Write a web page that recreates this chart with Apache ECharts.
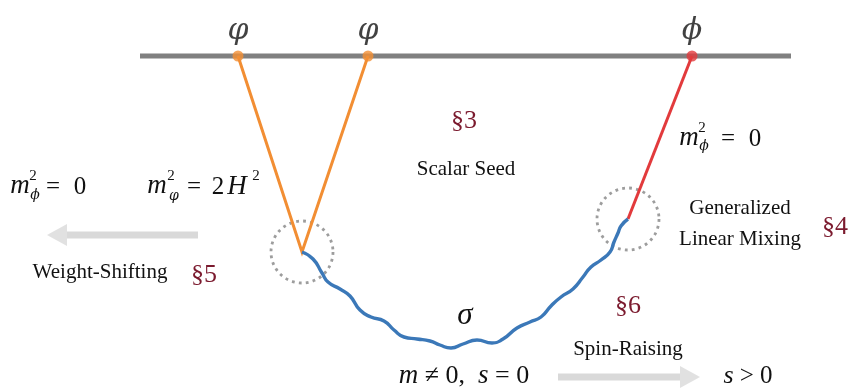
<!DOCTYPE html>
<html>
<head>
<meta charset="utf-8">
<script src="https://cdn.jsdelivr.net/npm/echarts@6/dist/echarts.min.js"></script>
<style>
  html, body { margin: 0; padding: 0; background: #ffffff; }
  #chart { width: 850px; height: 389px; }
</style>
</head>
<body>
<div id="chart"></div>
<script>
// Field points sitting on the boundary line
const fieldNames = ['φ', 'φ', 'ϕ'];
const fieldX = [238, 368, 692];
const boundaryY = 56;
const boundaryX = [140, 791];

// Vertices where the external lines meet the exchanged field
const vertexLeft = [302, 252];
const vertexRight = [628, 219];

// Exchanged σ line (wavy propagator)
const waveX = [302, 313, 322, 328, 340, 350, 360, 371, 384, 394, 404, 417, 430, 440, 451, 463, 477, 492, 503, 517, 530, 541, 551, 561, 573, 583, 591, 601, 610, 614, 618, 621, 628];
const waveY = [252, 259, 273, 282, 289, 296, 310, 317, 321, 330, 337, 339, 341, 345, 348, 344, 340, 343, 339, 328, 322, 317, 306, 297, 289, 277, 267, 260, 252, 242, 233, 226, 219];

// Arrows: [start x, end x, y]
const arrowLeft = [198, 47, 235];
const arrowRight = [558, 700, 377];

const COL = {
  boundary: '#808080',
  orange: '#F28E33',
  red: '#E23A3C',
  blue: '#3B78B8',
  section: '#7B1A2E',
  arrow: '#D9D9D9',
  dots: '#858585',
  ink: '#111111'
};

const SERIF = "'Liberation Serif', 'DejaVu Serif', serif";
const GREEK = "'DejaVu Serif', serif";

const chart = echarts.init(document.getElementById('chart'), null, { renderer: 'canvas' });

const waveData = waveX.map((x, i) => [x, waveY[i]]);

// text helper
function txt(text, x, y, opt) {
  opt = opt || {};
  return {
    type: 'text', x: x, y: y, z: 50,
    style: {
      text: text,
      font: (opt.italic ? 'italic ' : '') + (opt.size || 21) + 'px ' + (opt.family || SERIF),
      fill: opt.color || COL.ink,
      align: opt.align || 'center',
      verticalAlign: 'middle'
    }
  };
}

const graphics = [
  // section markers
  txt('§3', 464, 121, { size: 26, color: COL.section }),
  txt('§4', 835, 227, { size: 26, color: COL.section }),
  txt('§5', 204, 275, { size: 26, color: COL.section }),
  txt('§6', 628, 306, { size: 26, color: COL.section }),
  // descriptive labels
  txt('Scalar Seed', 466, 169, { size: 21 }),
  txt('Generalized', 740, 208, { size: 21 }),
  txt('Linear Mixing', 740, 239, { size: 21 }),
  txt('Weight-Shifting', 100, 272, { size: 21 }),
  txt('Spin-Raising', 628, 349, { size: 21 }),
  // σ
  txt('σ', 465, 316, { size: 31, italic: true }),
  // m_ϕ^2 = 0 (right)
  txt('m', 689, 138, { size: 27, italic: true }),
  txt('2', 702, 128, { size: 15 }),
  txt('ϕ', 704, 146, { size: 14, italic: true, family: GREEK }),
  txt('=', 728, 139, { size: 25 }),
  txt('0', 755, 139, { size: 25 }),
  // m_ϕ^2 = 0 (left)
  txt('m', 20, 186, { size: 27, italic: true }),
  txt('2', 33, 176, { size: 15 }),
  txt('ϕ', 35, 195, { size: 14, italic: true, family: GREEK }),
  txt('=', 53, 187, { size: 25 }),
  txt('0', 80, 187, { size: 25 }),
  // m_φ^2 = 2H^2
  txt('m', 157, 186, { size: 27, italic: true }),
  txt('2', 171, 176, { size: 15 }),
  txt('φ', 174, 196, { size: 14, italic: true, family: GREEK }),
  txt('=', 194, 187, { size: 25 }),
  txt('2', 218, 187, { size: 25 }),
  txt('H', 237, 187, { size: 27, italic: true }),
  txt('2', 256, 176, { size: 15 }),
  // bottom relations
  {
    type: 'text', x: 464, y: 376, z: 50,
    style: {
      text: '{i|m} ≠ 0,  {i|s} = 0',
      font: '26px ' + SERIF, fill: COL.ink, align: 'center', verticalAlign: 'middle',
      rich: { i: { font: 'italic 27px ' + SERIF, fill: COL.ink } }
    }
  },
  {
    type: 'text', x: 748, y: 376, z: 50,
    style: {
      text: '{i|s} > 0',
      font: '25px ' + SERIF, fill: COL.ink, align: 'center', verticalAlign: 'middle',
      rich: { i: { font: 'italic 26px ' + SERIF, fill: COL.ink } }
    }
  }
];

function arrowSeries(a, dir) {
  const headLen = 20;
  const shaftEnd = a[1] + (dir < 0 ? headLen : -headLen);
  return [
    {
      type: 'line', data: [[a[0], a[2]], [shaftEnd, a[2]]],
      symbol: 'none', lineStyle: { color: COL.arrow, width: 7, cap: 'butt' }, z: 1, silent: true
    },
    {
      type: 'scatter', data: [[(a[1] + shaftEnd) / 2, a[2]]],
      symbol: 'triangle', symbolSize: [22, headLen], symbolRotate: dir < 0 ? 90 : -90,
      itemStyle: { color: COL.arrow }, z: 1, silent: true
    }
  ];
}

const option = {
  backgroundColor: '#ffffff',
  animation: false,
  grid: { left: 0, right: 0, top: 0, bottom: 0 },
  xAxis: { type: 'value', min: 0, max: 850, show: false },
  yAxis: { type: 'value', min: 0, max: 389, inverse: true, show: false },
  series: [
    // boundary line
    {
      type: 'line', data: [[boundaryX[0], boundaryY], [boundaryX[1], boundaryY]],
      symbol: 'none', lineStyle: { color: COL.boundary, width: 5, cap: 'butt' }, z: 2
    },
    // dotted vertex circles
    {
      type: 'scatter', data: [vertexLeft, vertexRight], symbol: 'circle', symbolSize: 62,
      itemStyle: { color: 'rgba(0,0,0,0)', borderColor: COL.dots, borderWidth: 2.8, borderType: [2.8, 4.2] },
      z: 3, silent: true
    },
    // conformally coupled external legs
    {
      type: 'line', data: [[fieldX[0], boundaryY], vertexLeft, [fieldX[1], boundaryY]],
      symbol: 'none', lineStyle: { color: COL.orange, width: 3, join: 'miter' }, z: 4
    },
    // massless external leg
    {
      type: 'line', data: [[fieldX[2], boundaryY], vertexRight],
      symbol: 'none', lineStyle: { color: COL.red, width: 3 }, z: 4
    },
    // exchanged σ
    {
      type: 'line', data: waveData, smooth: 0.55,
      symbol: 'none', lineStyle: { color: COL.blue, width: 3.4 }, z: 4
    },
    // field insertion points with labels
    {
      type: 'scatter', symbolSize: 11, z: 6,
      data: fieldX.map((x, i) => ({
        value: [x, boundaryY], name: fieldNames[i],
        itemStyle: { color: i < 2 ? COL.orange : COL.red }
      })),
      label: {
        show: true, position: 'top', distance: 4, formatter: p => p.name,
        fontFamily: GREEK, fontStyle: 'italic', fontSize: 30, color: COL.ink
      }
    },
    ...arrowSeries(arrowLeft, -1),
    ...arrowSeries(arrowRight, 1)
  ],
  graphic: graphics
};

chart.setOption(option);
</script>
</body>
</html>
